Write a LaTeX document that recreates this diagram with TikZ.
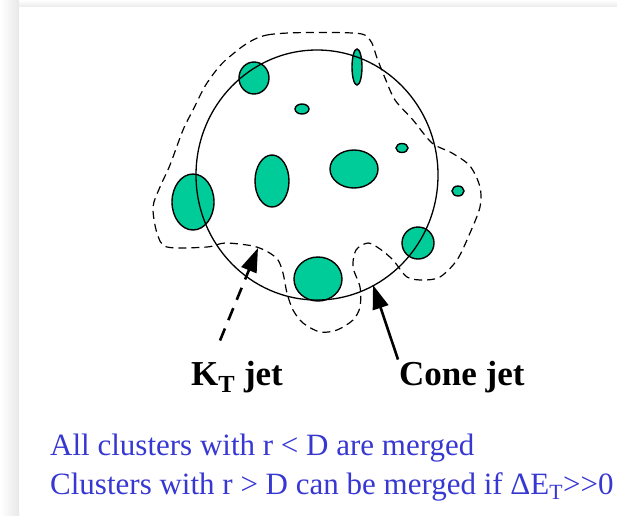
\documentclass[tikz,border=0pt]{standalone}
\usepackage{fontspec}
\setmainfont{Liberation Serif}
\usepackage{xcolor}
\usepackage{tikz}
\usetikzlibrary{positioning,calc,arrows.meta}

\definecolor{blobgreen}{RGB}{0,204,153}
\definecolor{noteblue}{RGB}{55,55,210}

\tikzset{
  blob/.style={draw=black, line width=1.4pt, fill=blobgreen},
  conecircle/.style={draw=black, line width=1.3pt},
  ktline/.style={draw=black, line width=1.2pt, dash pattern=on 8pt off 5pt},
  jetlabel/.style={font=\fontsize{35}{40}\selectfont\bfseries, inner sep=1pt},
  notetext/.style={font=\fontsize{31}{36}\selectfont, text=noteblue, inner sep=0pt},
  ktarrow/.style={line width=2.6pt, dash pattern=on 13pt off 9pt, -{Triangle[length=24pt,width=16pt]}},
  conearrow/.style={line width=2.6pt, -{Triangle[length=24pt,width=16pt]}}
}

\begin{document}
\begin{tikzpicture}[x=1pt, y=-1pt]
  \useasboundingbox (0,0) rectangle (617,515);
  % Panel shadow
  \shade[left color=white, right color=black!9] (0,0) rectangle (19,515);
  \shade[top color=white, bottom color=black!7] (19,0) rectangle (617,6);

  % Energy clusters
  \foreach \x/\y/\rx/\ry in {254/78/15/16, 357/67/5/18, 302/109/7/5, 402/148/6/4.5, 354/169/24/19, 272/181/17/26, 193/202/21/28, 458/191/6/5, 418/243/16/16, 318/279/24/22} {
    \draw[blob] (\x,\y) ellipse ({\rx} and {\ry});
  }

  % Cone jet circle
  \draw[conecircle] (317,175) ellipse (121 and 125);

  % KT jet boundary
  \draw[ktline] plot[smooth cycle, tension=0.5] coordinates {
    (228,58) (267,35) (353,33) (370,40) (377,58) (385,78) (395,100) (413,120)
    (432,143) (452,153) (470,166) (480,187) (480,207) (470,233) (457,260)
    (440,277) (423,280) (407,277) (393,260) (380,249) (368,243) (356,250)
    (353,267) (360,287) (360,307) (353,320) (337,330) (320,332) (303,323)
    (293,310) (287,293) (283,273) (278,260) (268,252) (253,246) (225,243)
    (207,247) (167,247) (157,233) (153,207) (160,187) (170,165) (183,130)
    (193,110) (207,83)};

  % Labels and arrows
  \node[jetlabel, anchor=base west] (ktlabel) at (190,385) {K\textsubscript{T} jet};
  \node[jetlabel, anchor=base west] (conelabel) at (398,385) {Cone jet};
  \coordinate (kttip) at (258,248);
  \coordinate (conetip) at (373,285);
  \draw[ktarrow] ($(ktlabel.north west)+(30,-19)$) -- (kttip);
  \draw[conearrow] (conelabel.north west) -- (conetip);

  % Merging rules
  \node[notetext, anchor=base west] (ruleone) at (50,455) {All clusters with r < D are merged};
  \node[notetext, anchor=base west] (ruletwo) at (50,494) {Clusters with r > D can be merged if ΔE\textsubscript{T}>\mbox{}>0};
\end{tikzpicture}
\end{document}
